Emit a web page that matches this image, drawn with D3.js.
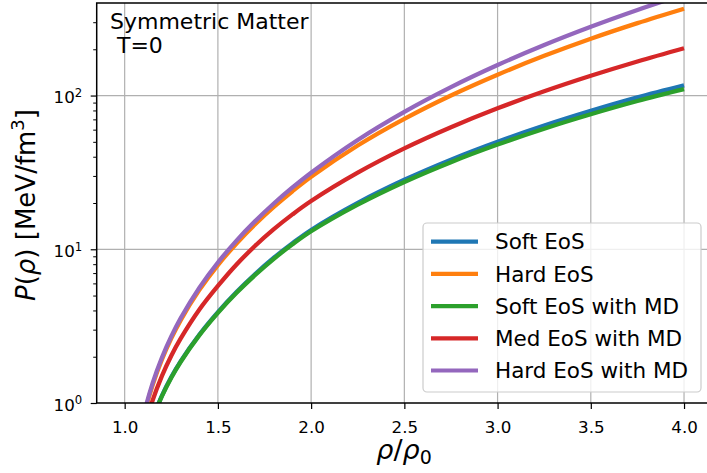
<!DOCTYPE html>
<html><head><meta charset="utf-8">
<script src="https://cdn.jsdelivr.net/npm/d3@7"></script>
<style>
html,body{margin:0;padding:0;background:#fff;}
svg{display:block;font-family:"DejaVu Sans",sans-serif;}
</style></head>
<body>
<svg id="chart" width="707" height="473"></svg>
<script>
// ---- data ----
const density = [1.05,1.1,1.15,1.2,1.25,1.3,1.4,1.5,1.6,1.7,1.8,1.9,2.0,2.25,2.5,2.75,3.0,3.25,3.5,3.75,4.0];
const softEoS      = [0.233,0.498,0.792,1.118,1.475,1.867,2.78,3.90,5.27,6.90,8.81,10.96,13.36,20.03,28.3,38.28,50.05,63.77,79.5,97.3,116.5];
const hardEoS      = [0.354,0.788,1.307,1.919,2.631,3.45,5.42,7.89,10.91,14.55,18.86,23.85,29.61,47.32,70.54,100.1,136.7,181.2,234.2,295.9,367.3];
const softEoSMD    = [0.231,0.493,0.784,1.107,1.46,1.849,2.753,3.861,5.211,6.806,8.67,10.77,13.1,19.52,27.42,36.88,47.99,60.85,75.52,92.1,110.0];
const medEoSMD     = [0.290,0.636,1.039,1.50,2.03,2.62,4.04,5.77,7.96,10.54,13.51,16.86,20.6,31.5,45.3,62.2,82.6,106.6,134.5,166.6,203.1];
const hardEoSMD    = [0.365,0.812,1.347,1.978,2.712,3.557,5.611,8.202,11.39,15.25,19.85,25.24,31.5,51.44,78.38,113.5,158.0,213.2,280.2,360.4,455.2];
const seriesNames  = ["Soft EoS","Hard EoS","Soft EoS with MD","Med EoS with MD","Hard EoS with MD"];
const seriesValues = [softEoS, hardEoS, softEoSMD, medEoSMD, hardEoSMD];
const seriesColors = ["#1f77b4","#ff7f0e","#2ca02c","#d62728","#9467bd"];
const xTicks = [1.0,1.5,2.0,2.5,3.0,3.5,4.0];
const yTicks = [1,10,100];
const yExp   = ["0","1","2"];

// ---- layout ----
const svg = d3.select("#chart");
const L = 96.7, R = 712, T = 3, B = 403;
const x = d3.scaleLinear().domain([0.85,4.15]).range([L,R]);
const y = d3.scaleLog().domain([1,400]).range([B,T]);

svg.append("defs").append("clipPath").attr("id","clip")
  .append("rect").attr("x",L).attr("y",T).attr("width",R-L).attr("height",B-T);

// grid
const grid = svg.append("g");
grid.selectAll("line.gx").data(xTicks).join("line")
  .attr("class","gx")
  .attr("x1",d=>x(d)).attr("x2",d=>x(d)).attr("y1",T).attr("y2",B)
  .attr("stroke","#b0b0b0").attr("stroke-width",1.2);
grid.selectAll("line.gy").data(yTicks.slice(1)).join("line")
  .attr("class","gy")
  .attr("x1",L).attr("x2",R).attr("y1",d=>y(d)).attr("y2",d=>y(d))
  .attr("stroke","#b0b0b0").attr("stroke-width",1.2);

// curves
const line = d3.line().x(d=>x(d[0])).y(d=>y(d[1])).curve(d3.curveCatmullRom.alpha(0.5));
const curves = svg.append("g").attr("clip-path","url(#clip)");
seriesValues.forEach((vals,i)=>{
  curves.append("path")
    .datum(density.map((d,j)=>[d,vals[j]]))
    .attr("d",line).attr("fill","none")
    .attr("stroke",seriesColors[i]).attr("stroke-width",4.3)
    .attr("stroke-linejoin","round");
});

// axes
const xAxis = d3.axisBottom(x).tickValues(xTicks).tickFormat(d3.format(".1f")).tickSize(6).tickSizeOuter(0);
const gx = svg.append("g").attr("transform",`translate(0,${B})`).call(xAxis);
gx.select(".domain").remove();
gx.selectAll(".tick line").attr("stroke","#000").attr("stroke-width",1.2);
gx.selectAll(".tick text").attr("y",29.5).attr("dy",0)
  .attr("font-size","16.7px").attr("font-family","DejaVu Sans").attr("fill","#000");

const minor = [];
[1,10,100].forEach(dec=>{ for(let k=2;k<=9;k++){ const v=dec*k; if(v<400) minor.push(v);} });
const gym = svg.append("g").attr("transform",`translate(${L},0)`)
  .call(d3.axisLeft(y).tickValues(minor).tickFormat("").tickSize(3.5).tickSizeOuter(0));
gym.select(".domain").remove();
gym.selectAll(".tick line").attr("stroke","#000").attr("stroke-width",1);

const gy = svg.append("g").attr("transform",`translate(${L},0)`)
  .call(d3.axisLeft(y).tickValues(yTicks).tickFormat("").tickSize(6).tickSizeOuter(0));
gy.select(".domain").remove();
gy.selectAll(".tick line").attr("stroke","#000").attr("stroke-width",1.2);
gy.selectAll(".tick").each(function(d,i){
  const t = d3.select(this).append("text")
    .attr("x",-14.5).attr("y",7.3).attr("text-anchor","end")
    .attr("font-size","16.7px").attr("fill","#000").attr("font-family","DejaVu Sans");
  t.append("tspan").text("10");
  t.append("tspan").attr("dy",-6.5).attr("font-size","11.7px").text(yExp[i]);
});

// frame (left, top, bottom spines; right spine falls outside the page)
svg.append("rect").attr("x",L).attr("y",T).attr("width",R-L).attr("height",B-T)
  .attr("fill","none").attr("stroke","#000").attr("stroke-width",1.5);

// annotation
svg.append("text").attr("x",110).attr("y",29.3).attr("font-size","22px").attr("fill","#000")
  .text("Symmetric Matter");
svg.append("text").attr("x",110).attr("y",53.3).attr("font-size","22px").attr("fill","#000")
  .attr("xml:space","preserve").style("white-space","pre").text(" T=0");

// legend
const lg = svg.append("g");
lg.append("rect").attr("x",423).attr("y",223).attr("width",278).attr("height",169)
  .attr("rx",4).attr("fill","#fff").attr("fill-opacity",0.8)
  .attr("stroke","#cccccc").attr("stroke-width",1.2);
seriesNames.forEach((name,i)=>{
  const yy = 241.7 + i*32.2;
  lg.append("line").attr("x1",431).attr("x2",478).attr("y1",yy).attr("y2",yy)
    .attr("stroke",seriesColors[i]).attr("stroke-width",4.2);
  lg.append("text").attr("x",495).attr("y",yy+7.7).attr("font-size","21.5px").attr("fill","#000").text(name);
});

// axis labels
const xl = svg.append("text").attr("x",404).attr("y",459).attr("text-anchor","middle")
  .attr("font-size","27px").attr("fill","#000");
xl.append("tspan").attr("font-style","italic").text("ρ");
xl.append("tspan").text("/");
xl.append("tspan").attr("font-style","italic").text("ρ");
xl.append("tspan").attr("dy",5).attr("font-size","19px").text("0");

const yl = svg.append("text").attr("transform","translate(35,205) rotate(-90)")
  .attr("text-anchor","middle").attr("font-size","26px").attr("fill","#000");
yl.append("tspan").attr("font-style","italic").text("P");
yl.append("tspan").text("(");
yl.append("tspan").attr("font-style","italic").text("ρ");
yl.append("tspan").text(") [MeV/fm");
yl.append("tspan").attr("dy",-11).attr("font-size","18px").text("3");
yl.append("tspan").attr("dy",11).text("]");
</script>
</body></html>
